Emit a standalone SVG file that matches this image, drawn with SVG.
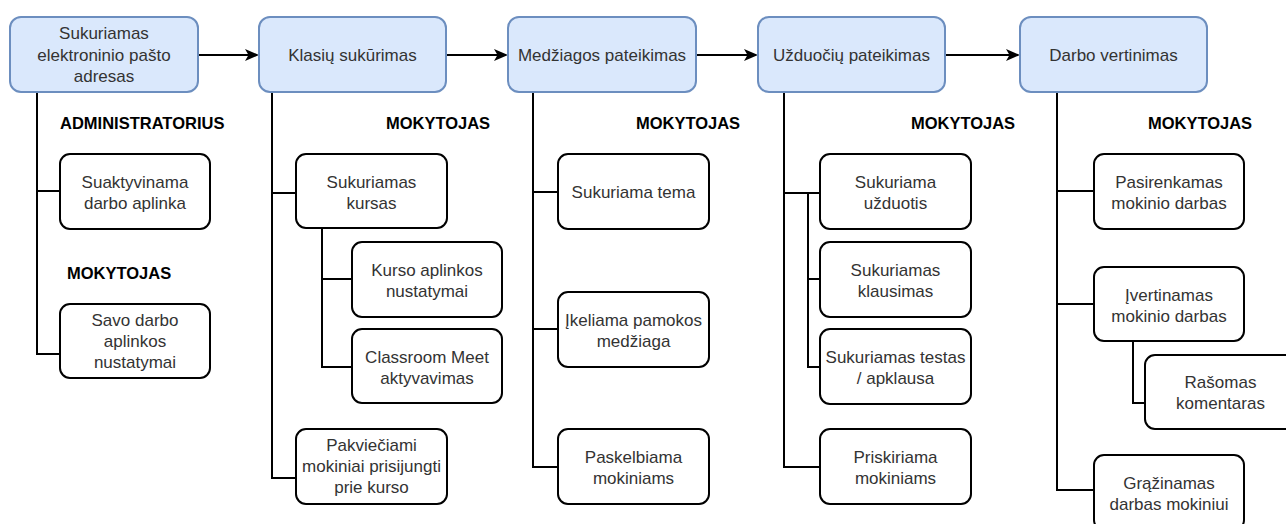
<svg xmlns="http://www.w3.org/2000/svg" width="1286" height="524" viewBox="0 0 1286 524">
<style>
.top{fill:#dae8fc;stroke:#6c8ebf;stroke-width:2}
.sub{fill:#ffffff;stroke:#000000;stroke-width:2}
.t{font-family:"Liberation Sans",Arial,sans-serif;font-size:17px;fill:#333333;text-anchor:middle}
.role{font-family:"Liberation Sans",Arial,sans-serif;font-size:16.5px;font-weight:bold;fill:#000000}
.c{fill:none;stroke:#000000;stroke-width:2}
</style>
<defs>
<marker id="arr" markerWidth="14" markerHeight="14" refX="12" refY="7" orient="auto" markerUnits="userSpaceOnUse">
<path d="M0,1 L14,7 L0,13 L3.5,7 Z" fill="#000000"/>
</marker>
</defs>
<rect width="1286" height="524" fill="#ffffff"/>
<g id="connectors">
<line class="c" x1="198" y1="55" x2="257" y2="55" marker-end="url(#arr)"/>
<line class="c" x1="446" y1="55" x2="506" y2="55" marker-end="url(#arr)"/>
<line class="c" x1="696" y1="55" x2="756" y2="55" marker-end="url(#arr)"/>
<line class="c" x1="945" y1="55" x2="1018" y2="55" marker-end="url(#arr)"/>
<path class="c" d="M37,92 V354 H60 M37,191 H60"/>
<path class="c" d="M272,92 V478 H296 M272,193 H296 M322,228 V367 H352 M322,279 H352"/>
<path class="c" d="M533,92 V467 H558 M533,192 H558 M533,329 H558"/>
<path class="c" d="M784,92 V467 H820 M784,193 H820 M808,193 V367 H820 M808,279 H820"/>
<path class="c" d="M1057,92 V490 H1094 M1057,191 H1094 M1057,304 H1094 M1133,341 V403 H1145"/>
</g>
<g id="n1"><rect class="top" x="10" y="17" width="188" height="75" rx="11"/><text class="t"><tspan x="104" y="39">Sukuriamas</tspan><tspan x="104" y="61">elektroninio pašto</tspan><tspan x="104" y="82">adresas</tspan></text></g>
<g id="n2"><rect class="top" x="259" y="17" width="187" height="75" rx="11"/><text class="t" x="352.5" y="61">Klasių sukūrimas</text></g>
<g id="n3"><rect class="top" x="508" y="17" width="188" height="75" rx="11"/><text class="t" x="602" y="61">Medžiagos pateikimas</text></g>
<g id="n4"><rect class="top" x="758" y="17" width="187" height="75" rx="11"/><text class="t" x="851.5" y="61">Užduočių pateikimas</text></g>
<g id="n5"><rect class="top" x="1020" y="17" width="187" height="75" rx="11"/><text class="t" x="1113.5" y="61">Darbo vertinimas</text></g>
<g id="r1"><text class="role" x="60" y="129">ADMINISTRATORIUS</text></g>
<g id="r2"><text class="role" x="67" y="279">MOKYTOJAS</text></g>
<g id="r3"><text class="role" x="438" y="129" text-anchor="middle">MOKYTOJAS</text></g>
<g id="r4"><text class="role" x="688" y="129" text-anchor="middle">MOKYTOJAS</text></g>
<g id="r5"><text class="role" x="963" y="129" text-anchor="middle">MOKYTOJAS</text></g>
<g id="r6"><text class="role" x="1200" y="129" text-anchor="middle">MOKYTOJAS</text></g>
<g id="a1"><rect class="sub" x="60" y="154" width="150" height="75" rx="10"/><text class="t"><tspan x="135" y="188">Suaktyvinama</tspan><tspan x="135" y="209">darbo aplinka</tspan></text></g>
<g id="a2"><rect class="sub" x="60" y="304" width="150" height="74" rx="10"/><text class="t"><tspan x="135" y="326">Savo darbo</tspan><tspan x="135" y="347">aplinkos</tspan><tspan x="135" y="368">nustatymai</tspan></text></g>
<g id="b1"><rect class="sub" x="296" y="154" width="151" height="74" rx="10"/><text class="t"><tspan x="371.5" y="188">Sukuriamas</tspan><tspan x="371.5" y="209">kursas</tspan></text></g>
<g id="b2"><rect class="sub" x="352" y="242" width="150" height="75" rx="10"/><text class="t"><tspan x="427" y="276">Kurso aplinkos</tspan><tspan x="427" y="297">nustatymai</tspan></text></g>
<g id="b3"><rect class="sub" x="352" y="329" width="150" height="74" rx="10"/><text class="t"><tspan x="427" y="363">Classroom Meet</tspan><tspan x="427" y="384">aktyvavimas</tspan></text></g>
<g id="b4"><rect class="sub" x="296" y="429" width="151" height="75" rx="10"/><text class="t"><tspan x="371.5" y="451">Pakviečiami</tspan><tspan x="371.5" y="472">mokiniai prisijungti</tspan><tspan x="371.5" y="493">prie kurso</tspan></text></g>
<g id="c1"><rect class="sub" x="558" y="154" width="151" height="75" rx="10"/><text class="t" x="633.5" y="198">Sukuriama tema</text></g>
<g id="c2"><rect class="sub" x="558" y="292" width="151" height="75" rx="10"/><text class="t"><tspan x="633.5" y="326">Įkeliama pamokos</tspan><tspan x="633.5" y="347">medžiaga</tspan></text></g>
<g id="c3"><rect class="sub" x="558" y="429" width="151" height="75" rx="10"/><text class="t"><tspan x="633.5" y="463">Paskelbiama</tspan><tspan x="633.5" y="484">mokiniams</tspan></text></g>
<g id="d1"><rect class="sub" x="820" y="154" width="151" height="75" rx="10"/><text class="t"><tspan x="895.5" y="188">Sukuriama</tspan><tspan x="895.5" y="209">užduotis</tspan></text></g>
<g id="d2"><rect class="sub" x="820" y="242" width="151" height="75" rx="10"/><text class="t"><tspan x="895.5" y="276">Sukuriamas</tspan><tspan x="895.5" y="297">klausimas</tspan></text></g>
<g id="d3"><rect class="sub" x="820" y="329" width="151" height="75" rx="10"/><text class="t"><tspan x="895.5" y="363">Sukuriamas testas</tspan><tspan x="895.5" y="384">/ apklausa</tspan></text></g>
<g id="d4"><rect class="sub" x="820" y="429" width="151" height="75" rx="10"/><text class="t"><tspan x="895.5" y="463">Priskiriama</tspan><tspan x="895.5" y="484">mokiniams</tspan></text></g>
<g id="e1"><rect class="sub" x="1094" y="154" width="150" height="75" rx="10"/><text class="t"><tspan x="1169" y="188">Pasirenkamas</tspan><tspan x="1169" y="209">mokinio darbas</tspan></text></g>
<g id="e2"><rect class="sub" x="1094" y="267" width="150" height="74" rx="10"/><text class="t"><tspan x="1169" y="301">Įvertinamas</tspan><tspan x="1169" y="322">mokinio darbas</tspan></text></g>
<g id="e3"><rect class="sub" x="1145" y="355" width="151" height="74" rx="10"/><text class="t"><tspan x="1220.5" y="388">Rašomas</tspan><tspan x="1220.5" y="409">komentaras</tspan></text></g>
<g id="e4"><rect class="sub" x="1094" y="455" width="150" height="75" rx="10"/><text class="t"><tspan x="1169" y="489">Grąžinamas</tspan><tspan x="1169" y="510">darbas mokiniui</tspan></text></g>
</svg>
